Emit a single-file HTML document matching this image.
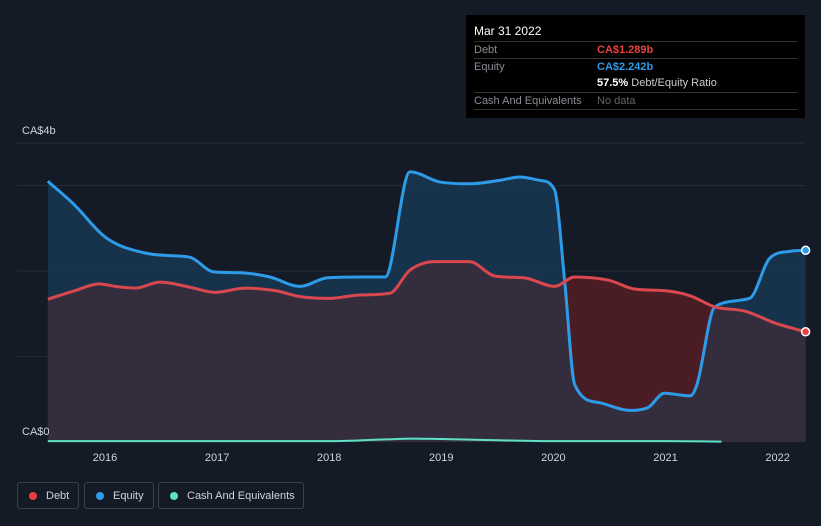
<!DOCTYPE html>
<html><head><meta charset="utf-8"><style>
body{margin:0;background:#151b26;font-family:"Liberation Sans",sans-serif;}
#wrap{position:relative;width:821px;height:526px;overflow:hidden;background:#151b26}
.tip{position:absolute;left:466px;top:15px;width:339px;height:103px;background:#000;color:#fff;font-size:11px}
.row{position:absolute;left:8px;right:8px;border-top:1px solid #333;height:17px;line-height:17px}
.lab{position:absolute;left:0;color:#8a8d93}
.val{position:absolute;left:123px}
.leg{position:absolute;top:482px;height:27px;border:1px solid #3a404c;border-radius:3px;color:#d0d3d8;font-size:11px;line-height:27px;box-sizing:border-box;padding-left:28px}
.dot{position:absolute;left:11px;top:9px;width:8px;height:8px;border-radius:50%}
</style></head><body>
<div id="wrap">
<svg id="svg" width="821" height="526" style="position:absolute;left:0;top:0"></svg>
<div class="tip">
 <div style="position:absolute;left:8px;top:9px;font-size:12px">Mar 31 2022</div>
 <div class="row" style="top:26px"><span class="lab">Debt</span><span class="val" style="color:#e8413f;font-weight:bold">CA$1.289b</span></div>
 <div class="row" style="top:43px"><span class="lab">Equity</span><span class="val" style="color:#2d9be8;font-weight:bold">CA$2.242b</span></div>
 <div class="row" style="top:60px;border-top:none"><span class="val" style="color:#ccc"><b style="color:#fff">57.5%</b> Debt/Equity Ratio</span></div>
 <div class="row" style="top:77px"><span class="lab">Cash And Equivalents</span><span class="val" style="color:#666">No data</span></div>
 <div class="row" style="top:94px;height:0"></div>
</div>
<div class="leg" style="left:17px;width:62px"><span class="dot" style="background:#e8413f"></span>Debt</div>
<div class="leg" style="left:84px;width:70px"><span class="dot" style="background:#2d9be8"></span>Equity</div>
<div class="leg" style="left:158px;width:146px"><span class="dot" style="background:#5fe0c6"></span>Cash And Equivalents</div>
</div>
<script>
const eqYears=[2015.49,2015.73,2015.98,2016.13,2016.40,2016.58,2016.76,2016.97,2017.20,2017.47,2017.74,2017.98,2018.27,2018.50,2018.72,2018.99,2019.25,2019.52,2019.70,2019.88,2020.01,2020.10,2020.19,2020.41,2020.68,2020.84,2020.99,2021.22,2021.28,2021.44,2021.75,2021.93,2022.11,2022.25];
const eqVals=[3.05,2.77,2.42,2.30,2.20,2.18,2.16,1.99,1.98,1.93,1.82,1.92,1.93,1.93,3.16,3.04,3.02,3.06,3.10,3.06,2.95,1.89,0.67,0.46,0.37,0.40,0.57,0.54,0.67,1.58,1.68,2.15,2.23,2.242];
const debtYears=[2015.49,2015.73,2015.95,2016.09,2016.27,2016.49,2016.76,2016.98,2017.25,2017.52,2017.74,2018.01,2018.27,2018.54,2018.72,2018.94,2019.25,2019.48,2019.74,2020.01,2020.19,2020.50,2020.72,2020.99,2021.22,2021.44,2021.71,2021.98,2022.25];
const debtVals=[1.67,1.77,1.85,1.82,1.80,1.87,1.81,1.75,1.80,1.77,1.70,1.68,1.72,1.74,2.01,2.11,2.11,1.94,1.92,1.82,1.93,1.89,1.79,1.77,1.71,1.58,1.53,1.39,1.289];
const cashYears=[2015.49,2016.5,2017.5,2018.0,2018.5,2018.75,2019.0,2019.5,2020.0,2020.5,2021.0,2021.5];
const cashVals=[0.01,0.01,0.01,0.01,0.03,0.04,0.035,0.02,0.01,0.01,0.01,0.005];
const xTicks=[2016,2017,2018,2019,2020,2021,2022];
const yGrid=[1,2,3];
const X=y=>105+(y-2016)*112.1, Y=v=>442-v*85.5;
const svg=document.getElementById('svg'),NS='http://www.w3.org/2000/svg';
function el(t,a,p){const e=document.createElementNS(NS,t);for(const k in a)e.setAttribute(k,a[k]);(p||svg).appendChild(e);return e;}
function path(xs,vs){const p=xs.map((x,i)=>[X(x),Y(vs[i])]);const n=p.length;
 const d=[],m=new Array(n);for(let i=0;i<n-1;i++)d.push((p[i+1][1]-p[i][1])/(p[i+1][0]-p[i][0]));
 m[0]=d[0];m[n-1]=d[n-2];for(let i=1;i<n-1;i++){m[i]=(d[i-1]*d[i]<=0)?0:(d[i-1]+d[i])/2;}
 for(let i=0;i<n-1;i++){if(d[i]===0){m[i]=0;m[i+1]=0;continue;}const a=m[i]/d[i],b=m[i+1]/d[i],s=a*a+b*b;if(s>9){const t=3/Math.sqrt(s);m[i]=t*a*d[i];m[i+1]=t*b*d[i];}}
 let s='M'+p[0][0]+','+p[0][1];
 for(let i=0;i<n-1;i++){const h=(p[i+1][0]-p[i][0])/3;s+=' C'+(p[i][0]+h)+','+(p[i][1]+m[i]*h)+' '+(p[i+1][0]-h)+','+(p[i+1][1]-m[i+1]*h)+' '+p[i+1][0]+','+p[i+1][1];}
 return s;}
function area(xs,vs){return path(xs,vs)+' L'+X(xs[xs.length-1])+','+Y(0)+' L'+X(xs[0])+','+Y(0)+'Z';}
let g=el('line',{x1:17,x2:805,y1:143,y2:143,stroke:'#2a303b'});
yGrid.forEach(v=>{const l=el('line',{x1:17,x2:805,y1:Y(v),y2:Y(v),stroke:'#252b36'});});
const defs=el('defs',{});const cp=el('clipPath',{id:'eqclip'},defs);el('path',{d:area(eqYears,eqVals)},cp);
let a1=el('path',{d:area(eqYears,eqVals),fill:'#173550','fill-opacity':0.9});
let a2=el('path',{d:area(debtYears,debtVals),fill:'#4a1d24'});
let a3=el('path',{d:area(debtYears,debtVals),fill:'#342d3e','clip-path':'url(#eqclip)'});
let l1=el('path',{d:path(eqYears,eqVals),fill:'none',stroke:'#2d9be8','stroke-width':3});
let l2=el('path',{d:path(debtYears,debtVals),fill:'none',stroke:'#d9474f','stroke-width':3});
let l3=el('path',{d:path(cashYears,cashVals),fill:'none',stroke:'#5fe0c6','stroke-width':2});
let d1=el('circle',{cx:X(eqYears.at(-1)),cy:Y(eqVals.at(-1)),r:4,fill:'#2d9be8',stroke:'#fff','stroke-width':1.5});
let d2=el('circle',{cx:X(debtYears.at(-1)),cy:Y(debtVals.at(-1)),r:4,fill:'#e8413f',stroke:'#fff','stroke-width':1.5});
xTicks.forEach(t=>{const e=el('text',{x:X(t),y:461,fill:'#d0d3d8','font-size':11,'text-anchor':'middle'});e.textContent=t;});
let t1=el('text',{x:22,y:134,fill:'#d0d3d8','font-size':11});t1.textContent='CA$4b';
let t2=el('text',{x:22,y:435,fill:'#d0d3d8','font-size':11});t2.textContent='CA$0';
</script>
</body></html>
